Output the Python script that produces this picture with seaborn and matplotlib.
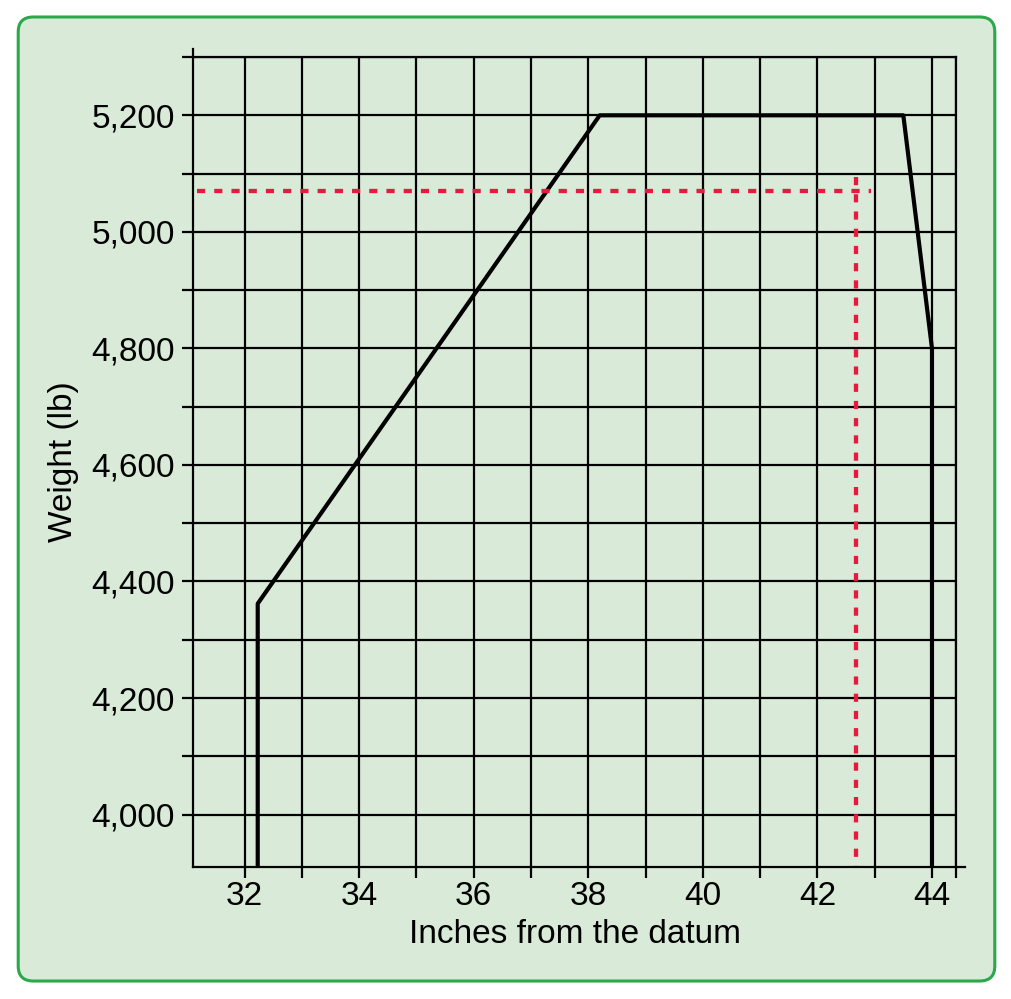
import numpy as np
import pandas as pd
import matplotlib
matplotlib.use('Agg')
import matplotlib.pyplot as plt
import seaborn as sns
from matplotlib.patches import FancyBboxPatch

# envelope data (inches from datum, weight lb)
env_x = [32.23, 32.23, 38.2, 43.5, 44.0, 44.0]
env_y = [3910, 4362, 5200, 5200, 4800, 3910]

# red dashed reading lines
read_h_x = [31.17, 42.93]
read_h_y = [5070, 5070]
read_v_x = [42.67, 42.67]
read_v_y = [5095, 3910]

x_major = [32, 34, 36, 38, 40, 42, 44]
x_minor = [33, 35, 37, 39, 41, 43, 44.42]
y_major = [4000, 4200, 4400, 4600, 4800, 5000, 5200]
y_minor = [4100, 4300, 4500, 4700, 4900, 5100, 5300]

sns.set_style('white')
plt.rcParams['font.family'] = ['Liberation Sans', 'DejaVu Sans']

bg = '#d9ebd8'
fig = plt.figure(figsize=(10.12, 9.99), dpi=100)
fig.patch.set_facecolor('white')
box = FancyBboxPatch((0.018, 0.018), 0.965, 0.965, boxstyle='round,pad=0,rounding_size=0.015',
                     transform=fig.transFigure, facecolor=bg, edgecolor='#2aa84a', linewidth=2.2,
                     zorder=-10)
fig.patches.append(box)

ax = fig.add_axes([0.1907, 0.1321, 0.9447 - 0.1907, 0.9429 - 0.1321])
ax.set_facecolor(bg)

env = pd.DataFrame({'x': env_x, 'y': env_y})
sns.lineplot(data=env, x='x', y='y', sort=False, estimator=None, color='black', lw=3.0, ax=ax)
sns.lineplot(x=read_h_x, y=read_h_y, sort=False, estimator=None, color='#e8193c', lw=3.1,
             linestyle=(0, (1.9, 2.1)), ax=ax)
sns.lineplot(x=read_v_x, y=read_v_y, sort=False, estimator=None, color='#e8193c', lw=3.1,
             linestyle=(0, (1.9, 2.1)), ax=ax)

ax.set_xlim(31.1, 44.42)
ax.set_ylim(3910, 5300)
ax.set_xticks(x_major)
ax.set_xticks(x_minor, minor=True)
ax.set_yticks(y_major)
ax.set_yticks(y_minor, minor=True)
ax.set_yticklabels([f'{v:,}' for v in y_major])
ax.set_xticklabels([str(v) for v in x_major])

ax.grid(True, which='both', color='black', lw=1.6)
ax.set_axisbelow(True)
for s in ax.spines.values():
    s.set_color('black')
    s.set_linewidth(1.6)
ax.spines['left'].set_bounds(3910, 5314)
ax.spines['bottom'].set_bounds(31.1, 44.58)

ax.tick_params(which='both', direction='out', length=8, width=1.6, color='black',
               labelsize=24, labelcolor='black')
ax.tick_params(axis='y', which='both', left=True, pad=5)
ax.tick_params(axis='x', which='both', bottom=True, pad=2)

ax.set_xlabel('Inches from the datum', fontsize=24, labelpad=5, color='black')
ax.set_ylabel('Weight (lb)', fontsize=24, labelpad=9, color='black')

fig.savefig('out.png', dpi=100, facecolor='white')
